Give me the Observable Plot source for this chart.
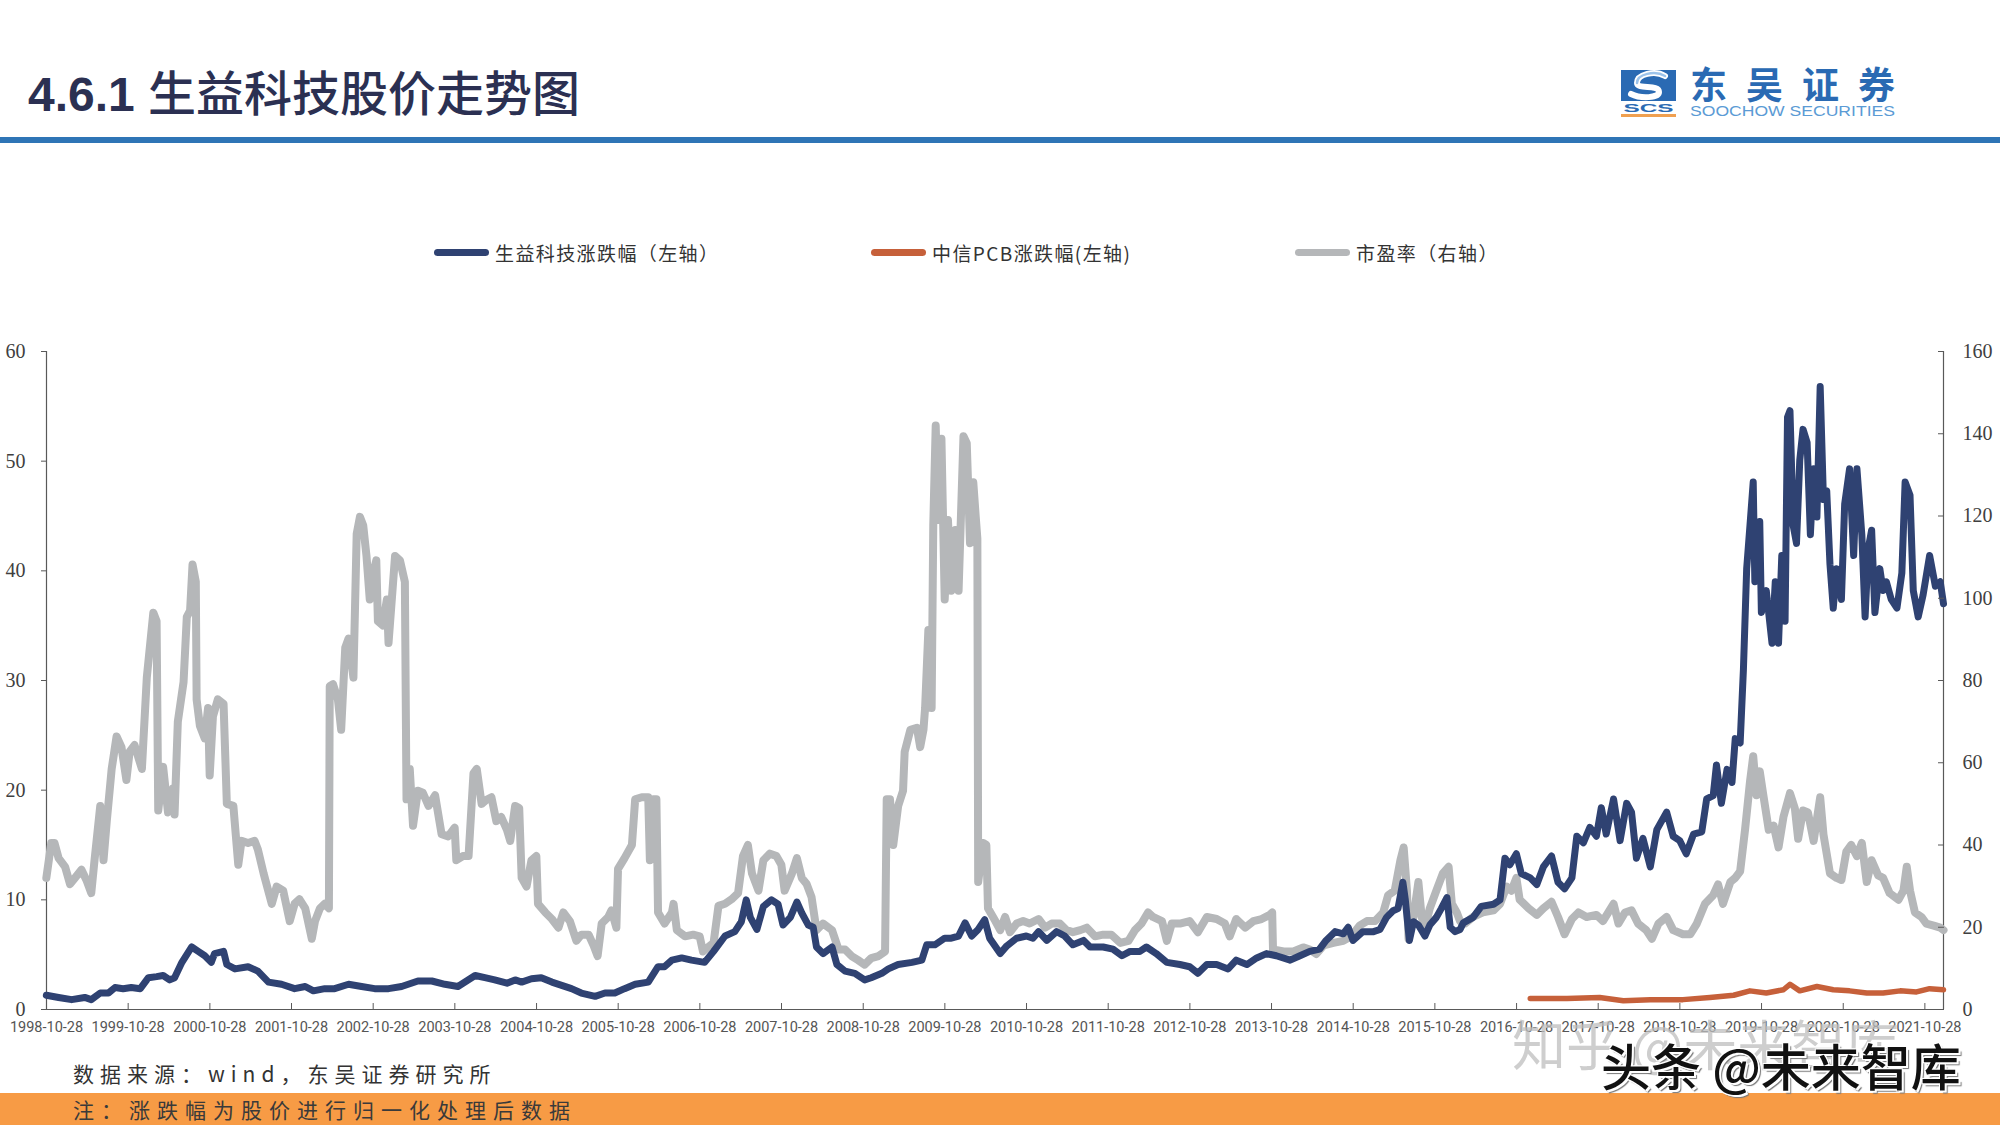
<!DOCTYPE html>
<html>
<head>
<meta charset="utf-8">
<script src="https://cdn.jsdelivr.net/npm/d3@7"></script>
<script src="https://cdn.jsdelivr.net/npm/@observablehq/plot@0.6"></script>
<style>
  html, body { margin: 0; padding: 0; background: #fff; }
  #page { position: relative; width: 2000px; height: 1125px; overflow: hidden; background: #fff; }
  .abs { position: absolute; white-space: nowrap; }
  #title { left: 28px; top: 60px; font-size: 48px; color: #2b3052; line-height: 60px; }
  #title .num { font-family: "Liberation Sans", Arial, sans-serif; font-weight: bold; }
  #title .cn { font-family: "Noto Sans CJK SC", sans-serif; font-weight: 500; }
  #bar { left: 0; top: 137px; width: 2000px; height: 6px; background: #2e75b6; }
  #legend { left: 0; top: 238px; width: 2000px; height: 28px; font-family: "Noto Sans CJK SC", sans-serif; font-size: 19px; letter-spacing: 1.4px; color: #333; }
  .lg { position: absolute; top: 0; display: flex; align-items: center; height: 28px; }
  .sw { width: 55px; height: 7px; border-radius: 4px; margin-right: 6px; }
  #chart { left: 0; top: 300px; }
  #source { left: 73px; top: 1058px; font-family: "Noto Sans CJK SC", sans-serif; font-size: 21px; letter-spacing: 6px; color: #333; }
  #band { left: 0; top: 1093px; width: 2000px; height: 32px; background: #f79b45; }
  #note { left: 73px; top: 1093px; line-height: 32px; font-family: "Noto Sans CJK SC", sans-serif; font-size: 21px; letter-spacing: 7px; color: #3a3a3a; }
  #wm1 { left: 1512px; top: 1003px; font-family: "Noto Sans CJK SC", sans-serif; font-size: 54px; color: rgba(190,190,190,0.75); }
  #wm2 { left: 1601px; top: 1028px; font-family: "Noto Sans CJK SC", sans-serif; font-weight: 500; font-size: 50px; color: #111; text-shadow: 2px 2px 0 #fff, -1px -1px 0 #fff, 1px -1px 0 #fff, -1px 1px 0 #fff, 3px 3px 1px #777; }
</style>
</head>
<body>
<div id="page">
  <div id="title" class="abs"><span class="num">4.6.1 </span><span class="cn">生益科技股价走势图</span></div>
  <svg class="abs" style="left:1615px; top:54px" width="300" height="72">
    <g transform="translate(0,10)">
      <rect x="6" y="6" width="55" height="31" fill="#2a6ab3"/>
      <path d="M50,12 C40,6 22,10 22,19 C22,26 44,20 44,28 C44,34 26,35 16,30" fill="none" stroke="#ffffff" stroke-width="6" stroke-linecap="round"/>
      <path d="M50,12 C40,6 22,10 22,19" fill="none" stroke="#9cc3ea" stroke-width="2.5" stroke-linecap="round"/>
      <text x="33.5" y="48" text-anchor="middle" font-family="Liberation Sans, Arial, sans-serif" font-weight="bold" font-size="11" fill="#2a6ab3" textLength="50" lengthAdjust="spacingAndGlyphs">SCS</text>
      <rect x="6" y="50" width="55" height="3" fill="#f0a050"/>
      <text x="75" y="35" font-family="Noto Sans CJK SC, sans-serif" font-weight="bold" font-size="37" fill="#2a6ab3" textLength="205" lengthAdjust="spacing">东吴证券</text>
      <text x="75" y="52" font-family="Liberation Sans, Arial, sans-serif" font-size="14" fill="#5b9bd5" textLength="205" lengthAdjust="spacingAndGlyphs">SOOCHOW SECURITIES</text>
    </g>
  </svg>
  <div id="bar" class="abs"></div>
  <div id="legend" class="abs"></div>
  <div id="chart" class="abs"></div>
  <div id="source" class="abs">数据来源：wind，东吴证券研究所</div>
  <div id="band" class="abs"></div>
  <div id="note" class="abs">注：涨跌幅为股价进行归一化处理后数据</div>
  <div id="wm1" class="abs">知乎 @未来智库</div>
  <div id="wm2" class="abs">头条 @未来智库</div>
</div>
<script>
// ---- Data (x = decimal year) ----
// 生益科技涨跌幅（左轴）
const shengyiStock = [
[1998.82,1.3],[1998.97,1.1],[1999.13,0.9],[1999.29,1.1],[1999.37,0.9],[1999.48,1.5],[1999.58,1.5],[1999.66,2.0],[1999.76,1.9],[1999.86,2.0],[1999.97,1.9],
[2000.07,2.9],[2000.17,3.0],[2000.25,3.1],[2000.33,2.7],[2000.39,2.9],[2000.48,4.3],[2000.60,5.7],[2000.68,5.3],[2000.76,4.9],[2000.84,4.3],[2000.88,5.1],[2000.99,5.3],
[2001.03,4.1],[2001.13,3.7],[2001.29,3.9],[2001.41,3.5],[2001.54,2.5],[2001.70,2.3],[2001.86,1.9],[2001.99,2.1],[2002.09,1.7],[2002.23,1.9],[2002.35,1.9],[2002.52,2.3],
[2002.68,2.1],[2002.84,1.9],[2003.01,1.9],[2003.17,2.1],[2003.37,2.6],[2003.54,2.6],[2003.70,2.3],[2003.86,2.1],[2004.07,3.1],[2004.19,2.9],[2004.31,2.7],[2004.46,2.4],
[2004.56,2.7],[2004.64,2.5],[2004.76,2.8],[2004.88,2.9],[2005.01,2.5],[2005.13,2.2],[2005.25,1.9],[2005.37,1.5],[2005.54,1.2],[2005.66,1.5],[2005.78,1.5],[2005.90,1.9],
[2006.03,2.3],[2006.19,2.5],[2006.31,3.9],[2006.39,3.9],[2006.48,4.5],[2006.60,4.7],[2006.72,4.5],[2006.88,4.3],[2006.99,5.3],[2007.13,6.7],[2007.25,7.1],[2007.33,8.0],
[2007.39,10.0],[2007.44,8.4],[2007.52,7.3],[2007.60,9.4],[2007.70,10.0],[2007.78,9.6],[2007.84,7.7],[2007.93,8.4],[2008.01,9.8],[2008.07,8.8],[2008.15,7.7],[2008.21,7.5],
[2008.25,5.7],[2008.33,5.1],[2008.44,5.7],[2008.50,4.1],[2008.60,3.5],[2008.72,3.3],[2008.84,2.7],[2008.92,2.9],[2009.05,3.3],[2009.13,3.7],[2009.25,4.1],[2009.42,4.3],
[2009.54,4.5],[2009.60,5.9],[2009.70,5.9],[2009.82,6.5],[2009.90,6.5],[2009.99,6.7],[2010.07,7.9],[2010.15,6.7],[2010.23,7.3],[2010.31,8.2],[2010.37,6.5],[2010.50,5.1],
[2010.58,5.8],[2010.70,6.5],[2010.82,6.7],[2010.90,6.5],[2010.97,7.1],[2011.07,6.3],[2011.19,7.1],[2011.29,6.7],[2011.39,5.9],[2011.52,6.3],[2011.60,5.7],[2011.76,5.7],
[2011.88,5.5],[2011.99,4.9],[2012.09,5.3],[2012.21,5.3],[2012.29,5.7],[2012.41,5.1],[2012.54,4.3],[2012.70,4.1],[2012.82,3.9],[2012.92,3.3],[2013.03,4.1],[2013.15,4.1],
[2013.29,3.7],[2013.39,4.5],[2013.52,4.1],[2013.64,4.7],[2013.76,5.1],[2013.88,4.9],[2014.05,4.5],[2014.17,4.9],[2014.29,5.3],[2014.41,5.5],[2014.49,6.3],[2014.60,7.1],
[2014.70,6.9],[2014.76,7.5],[2014.82,6.3],[2014.94,7.1],[2015.07,7.1],[2015.15,7.3],[2015.23,8.4],[2015.31,9.0],[2015.37,9.2],[2015.43,11.6],[2015.46,10.0],[2015.51,6.3],
[2015.56,8.0],[2015.62,7.7],[2015.70,6.7],[2015.76,7.7],[2015.84,8.4],[2015.90,9.2],[2015.97,10.2],[2016.01,7.5],[2016.07,7.1],[2016.13,7.3],[2016.17,7.9],[2016.29,8.4],
[2016.39,9.4],[2016.54,9.6],[2016.62,10.0],[2016.68,13.8],[2016.74,13.2],[2016.82,14.2],[2016.88,12.4],[2016.99,12.0],[2017.07,11.4],[2017.15,13.0],[2017.25,14.0],
[2017.33,11.6],[2017.41,11.0],[2017.50,12.0],[2017.56,15.8],[2017.64,15.2],[2017.72,16.6],[2017.80,15.8],[2017.86,18.4],[2017.92,16.0],[2018.01,19.2],[2018.09,15.4],
[2018.17,18.8],[2018.23,18.0],[2018.29,13.8],[2018.37,15.6],[2018.46,13.0],[2018.54,16.4],[2018.66,18.0],[2018.74,15.8],[2018.82,15.4],[2018.90,14.2],[2018.99,16.0],
[2019.09,16.2],[2019.15,19.2],[2019.23,19.5],[2019.27,22.3],[2019.33,18.8],[2019.40,21.9],[2019.46,20.7],[2019.50,24.7],[2019.56,24.3],[2019.60,31.0],[2019.64,40.2],
[2019.68,44.1],[2019.72,48.1],[2019.74,39.0],[2019.80,44.5],[2019.82,36.2],[2019.88,38.2],[2019.95,33.4],[2019.99,39.0],[2020.03,33.4],[2020.07,41.4],[2020.11,35.4],
[2020.14,54.0],[2020.17,54.6],[2020.21,44.1],[2020.25,42.5],[2020.29,50.1],[2020.33,52.9],[2020.38,51.7],[2020.42,43.3],[2020.46,49.3],[2020.50,44.9],[2020.54,56.8],
[2020.58,46.5],[2020.62,47.3],[2020.66,40.6],[2020.70,36.6],[2020.74,40.2],[2020.80,37.4],[2020.84,46.1],[2020.90,49.3],[2020.95,41.4],[2020.99,49.3],[2021.05,43.3],
[2021.09,35.8],[2021.13,42.1],[2021.17,43.7],[2021.21,36.2],[2021.27,40.2],[2021.31,38.2],[2021.35,39.0],[2021.41,37.4],[2021.48,36.6],[2021.54,39.8],[2021.58,48.1],
[2021.64,46.9],[2021.68,38.2],[2021.74,35.8],[2021.80,37.8],[2021.88,41.4],[2021.95,38.6],[2022.01,39.0],[2022.05,37.0]
];

// 中信PCB涨跌幅（左轴）
const pcbIndex = [
[2016.99,1.0],[2017.44,1.0],[2017.84,1.1],[2018.13,0.8],[2018.46,0.9],[2018.86,0.9],[2019.19,1.1],[2019.48,1.3],[2019.68,1.7],[2019.88,1.5],[2020.09,1.8],
[2020.17,2.3],[2020.29,1.7],[2020.50,2.1],[2020.70,1.8],[2020.90,1.7],[2021.11,1.5],[2021.31,1.5],[2021.52,1.7],[2021.72,1.6],[2021.88,1.9],[2022.05,1.8]
];

// 市盈率（右轴）
const peRatio = [
[1998.82,32],[1998.88,40.5],[1998.92,40.5],[1998.97,36.8],[1999.05,34.7],[1999.11,30.5],[1999.17,32],[1999.25,34],[1999.31,31.5],[1999.37,28.3],[1999.41,36.3],
[1999.48,49.5],[1999.52,36.3],[1999.56,45.8],[1999.62,58.5],[1999.68,66.4],[1999.74,63.8],[1999.80,55.8],[1999.84,62.7],[1999.90,64.3],[1999.99,58.5],[2000.05,80.7],
[2000.13,96.5],[2000.17,94.4],[2000.19,48.4],[2000.25,59],[2000.31,47.9],[2000.37,53.7],[2000.39,47.4],[2000.43,70],[2000.50,79.6],[2000.54,95.5],[2000.58,97],
[2000.61,108.2],[2000.65,104],[2000.66,75.4],[2000.70,69],[2000.76,65.9],[2000.80,73.3],[2000.82,56.9],[2000.86,71.3],[2000.92,75.4],[2000.99,74.3],[2001.03,50],
[2001.11,49.5],[2001.17,35.2],[2001.21,41],[2001.29,40.5],[2001.37,41],[2001.41,38.9],[2001.48,33.1],[2001.58,25.7],[2001.64,29.9],[2001.72,28.9],[2001.80,21.5],
[2001.86,25.7],[2001.92,26.8],[2001.99,24.6],[2002.07,17.2],[2002.11,21.5],[2002.17,24.6],[2002.23,25.7],[2002.28,24.6],[2002.29,78.6],[2002.33,79.1],[2002.39,75.4],
[2002.43,68],[2002.48,88],[2002.52,90.2],[2002.58,80.7],[2002.62,115.6],[2002.66,119.8],[2002.70,117.7],[2002.74,110.3],[2002.78,99.7],[2002.82,106],[2002.86,109.2],
[2002.88,94.4],[2002.94,93.4],[2002.99,99.7],[2003.01,89.1],[2003.05,99.7],[2003.09,110.3],[2003.15,109.2],[2003.21,104],[2003.23,51.1],[2003.27,58.5],[2003.31,44.7],
[2003.37,53.2],[2003.43,52.7],[2003.50,49.5],[2003.58,52.1],[2003.66,42.6],[2003.74,42.1],[2003.82,44.2],[2003.84,36.3],[2003.92,37.3],[2003.99,37.3],[2004.05,57.4],
[2004.09,58.5],[2004.15,50],[2004.21,51],[2004.27,51.6],[2004.33,45.8],[2004.39,46.8],[2004.46,43.7],[2004.50,41],[2004.56,49.5],[2004.61,49],[2004.64,32],
[2004.70,29.9],[2004.76,36.3],[2004.82,37.3],[2004.84,25.7],[2004.93,23.6],[2005.01,22],[2005.09,19.9],[2005.15,23.6],[2005.23,21.5],[2005.31,16.7],[2005.37,18.2],
[2005.46,18.2],[2005.52,15.6],[2005.57,13],[2005.62,20.9],[2005.70,22.5],[2005.74,24.1],[2005.80,19.9],[2005.82,34.2],[2005.90,36.8],[2005.99,40],[2006.03,51.1],
[2006.11,51.6],[2006.19,51.6],[2006.21,36.3],[2006.25,51.1],[2006.29,51.1],[2006.31,23.6],[2006.39,20.9],[2006.48,23.6],[2006.50,25.7],[2006.54,19.3],[2006.64,17.8],
[2006.74,18.2],[2006.82,17.8],[2006.86,14.1],[2006.92,15.1],[2006.99,16.2],[2007.05,25.2],[2007.13,25.7],[2007.21,26.8],[2007.29,28.3],[2007.35,37.3],[2007.41,40],
[2007.46,33.1],[2007.54,28.9],[2007.60,36.3],[2007.68,37.9],[2007.76,37.3],[2007.82,35.2],[2007.86,28.9],[2007.95,33.1],[2008.01,36.8],[2008.07,32],[2008.13,30.5],
[2008.19,27.3],[2008.25,19.3],[2008.33,20.9],[2008.44,19.3],[2008.52,14.6],[2008.60,14.6],[2008.68,13],[2008.76,12],[2008.84,10.9],[2008.92,12.5],[2009.01,13],
[2009.09,14.1],[2009.11,51.1],[2009.15,51.1],[2009.19,40],[2009.25,49.5],[2009.31,53.2],[2009.33,62.7],[2009.40,68],[2009.48,68.5],[2009.52,63.8],[2009.56,68],
[2009.58,73.3],[2009.62,92.3],[2009.66,73.3],[2009.68,117.7],[2009.71,142],[2009.74,119],[2009.78,138.8],[2009.82,99.7],[2009.86,119],[2009.90,101.8],[2009.95,116.6],
[2009.99,101.8],[2010.05,139.4],[2010.09,137.7],[2010.13,113.4],[2010.17,128.2],[2010.20,119.8],[2010.22,114.5],[2010.23,31],[2010.29,40.5],[2010.33,40],
[2010.35,24.6],[2010.44,21.5],[2010.50,19.3],[2010.56,22.5],[2010.62,18.8],[2010.70,20.9],[2010.78,21.5],[2010.86,20.9],[2010.97,22],[2011.05,19.9],[2011.13,20.9],
[2011.23,20.9],[2011.31,19.3],[2011.39,18.8],[2011.48,19.3],[2011.56,19.9],[2011.66,17.8],[2011.76,18.2],[2011.86,18.2],[2011.97,16.2],[2012.07,16.7],[2012.15,19.3],
[2012.23,20.9],[2012.31,23.6],[2012.37,22.5],[2012.48,21.5],[2012.54,16.7],[2012.60,20.9],[2012.70,20.9],[2012.82,21.5],[2012.92,18.8],[2013.03,22.5],[2013.15,22],
[2013.25,20.9],[2013.31,17.8],[2013.39,22],[2013.50,19.9],[2013.60,21.5],[2013.70,22],[2013.80,23],[2013.83,23.6],[2013.84,14.6],[2013.97,14.1],[2014.09,14.1],
[2014.21,15.1],[2014.29,14.6],[2014.37,13.5],[2014.46,15.6],[2014.58,16.2],[2014.70,16.7],[2014.80,17.8],[2014.90,20.4],[2014.99,21.5],[2015.09,21.5],[2015.19,23.6],
[2015.25,27.8],[2015.33,28.9],[2015.40,36.3],[2015.44,39.4],[2015.48,28.9],[2015.50,17.2],[2015.56,22.5],[2015.62,31],[2015.66,22.5],[2015.70,19.9],[2015.76,24.6],
[2015.84,28.9],[2015.92,33.1],[2015.99,34.7],[2016.03,25.7],[2016.09,23.6],[2016.13,21.5],[2016.19,20.9],[2016.29,22.5],[2016.41,23.6],[2016.54,24.1],[2016.62,25.7],
[2016.70,29.9],[2016.76,28.9],[2016.82,32],[2016.86,26.7],[2016.97,24.6],[2017.07,23],[2017.15,24.6],[2017.25,26.2],[2017.33,22.5],[2017.41,18.3],[2017.50,22],
[2017.58,23.6],[2017.68,22.5],[2017.80,23],[2017.88,21.5],[2018.01,25.7],[2018.07,20.9],[2018.15,23.6],[2018.23,24.1],[2018.31,20.9],[2018.41,19.3],[2018.48,17.2],
[2018.56,20.9],[2018.66,22.5],[2018.74,19.3],[2018.86,18.3],[2018.95,18.3],[2019.03,20.9],[2019.13,25.7],[2019.23,27.8],[2019.29,30.4],[2019.35,25.7],[2019.44,31],
[2019.50,32],[2019.56,33.6],[2019.62,43.7],[2019.68,55.3],[2019.72,61.6],[2019.76,52.1],[2019.80,57.9],[2019.84,52.6],[2019.91,43.7],[2019.97,44.7],[2020.03,39.4],
[2020.09,46.8],[2020.17,52.6],[2020.23,48.9],[2020.27,41.5],[2020.33,48.4],[2020.39,47.9],[2020.46,41],[2020.54,51.6],[2020.58,42.6],[2020.66,33.1],[2020.74,32],
[2020.80,31.5],[2020.86,38.4],[2020.92,40],[2020.99,37.3],[2021.05,40.5],[2021.11,31],[2021.17,36.3],[2021.25,32.6],[2021.31,32],[2021.39,28.3],[2021.50,26.7],
[2021.56,28.9],[2021.60,34.7],[2021.64,28.9],[2021.70,23.6],[2021.78,22.5],[2021.84,20.9],[2021.93,20.4],[2022.01,19.9],[2022.05,19.3]
];

// Axis ticks / labels
const xTickLabels = ["1998-10-28","1999-10-28","2000-10-28","2001-10-28","2002-10-28","2003-10-28","2004-10-28","2005-10-28",
  "2006-10-28","2007-10-28","2008-10-28","2009-10-28","2010-10-28","2011-10-28","2012-10-28","2013-10-28","2014-10-28",
  "2015-10-28","2016-10-28","2017-10-28","2018-10-28","2019-10-28","2020-10-28","2021-10-28"];
const leftTicks = [0, 10, 20, 30, 40, 50, 60];
const rightTicks = [0, 20, 40, 60, 80, 100, 120, 140, 160];
const xEnd = 2022.05;

const seriesNames = ["生益科技涨跌幅（左轴）", "中信PCB涨跌幅(左轴)", "市盈率（右轴）"];
const seriesColors = ["#2f4272", "#c6603a", "#b5b7b9"];

// ---- helpers ----
function decimalYear(s) {
  const [y, m, d] = s.split("-").map(Number);
  const start = Date.UTC(y, 0, 1), end = Date.UTC(y + 1, 0, 1);
  return y + (Date.UTC(y, m - 1, d) - start) / (end - start);
}
const xTicks = xTickLabels.map(decimalYear);
const xStart = xTicks[0];
const k = 60 / 160; // right-axis values mapped onto the left-axis scale
const AX = "#595959";

const chart = Plot.plot({
  width: 2000,
  height: 754,
  marginTop: 51,
  marginBottom: 45,
  marginLeft: 46,
  marginRight: 57,
  x: {type: "linear", domain: [xStart, xEnd]},
  y: {domain: [0, 60]},
  style: {background: "transparent", overflow: "visible"},
  marks: [
    Plot.ruleY([0], {stroke: AX, strokeWidth: 1.2}),
    Plot.ruleX([xStart, xEnd], {stroke: AX, strokeWidth: 1.2}),
    Plot.line(peRatio, {x: d => d[0], y: d => d[1] * k, stroke: seriesColors[2], strokeWidth: 8, strokeLinejoin: "round"}),
    Plot.line(shengyiStock, {x: d => d[0], y: d => d[1], stroke: seriesColors[0], strokeWidth: 7, strokeLinejoin: "round"}),
    Plot.line(pcbIndex, {x: d => d[0], y: d => d[1], stroke: seriesColors[1], strokeWidth: 5.5, strokeLinejoin: "round"}),
    Plot.axisY(leftTicks, {anchor: "left", tickSize: 5, tickPadding: 16, color: AX, fill: "#3f3f3f",
      fontSize: 20, fontFamily: "Liberation Serif, Times New Roman, serif"}),
    Plot.axisY(rightTicks.map(v => v * k), {anchor: "right", tickSize: 6, dx: -6, color: AX, tickFormat: () => ""}),
    Plot.axisY(rightTicks.map(v => v * k), {anchor: "right", tickSize: 0, tickPadding: 19, fill: "#3f3f3f",
      fontSize: 20, fontFamily: "Liberation Serif, Times New Roman, serif", tickFormat: d => String(Math.round(d / k))}),
    Plot.axisX(xTicks, {anchor: "bottom", tickSize: 6, dy: -6, color: AX, tickFormat: () => ""}),
    Plot.axisX(xTicks, {anchor: "bottom", tickSize: 0, tickPadding: 12, fill: "#555",
      fontSize: 14.5, fontFamily: "Roboto, sans-serif", tickFormat: d => xTickLabels[xTicks.indexOf(d)]})
  ]
});
document.getElementById("chart").appendChild(chart);

// legend
const legendPos = [434, 871, 1295];
const legend = document.getElementById("legend");
seriesNames.forEach((name, i) => {
  const item = document.createElement("div");
  item.className = "lg";
  item.style.left = legendPos[i] + "px";
  item.innerHTML = `<div class="sw" style="background:${seriesColors[i]}"></div><span>${name}</span>`;
  legend.appendChild(item);
});
</script>
</body>
</html>
